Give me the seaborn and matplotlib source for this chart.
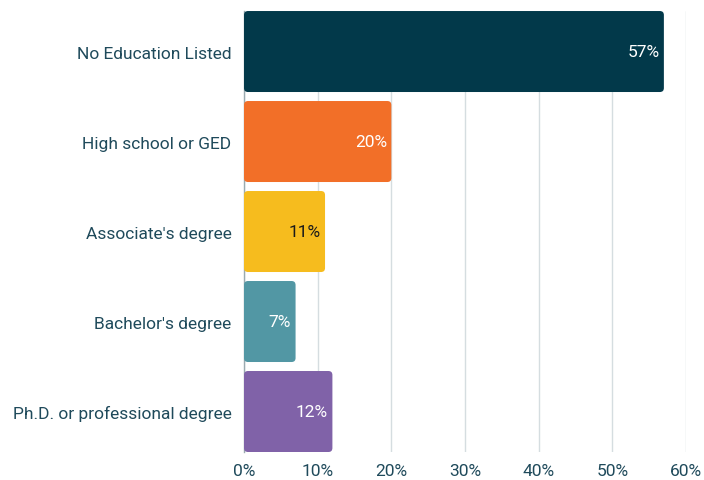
import matplotlib
matplotlib.use("Agg")
import pandas as pd
import seaborn as sns
import matplotlib.pyplot as plt
from matplotlib.patches import FancyBboxPatch

categories = ["No Education Listed", "High school or GED", "Associate's degree",
              "Bachelor's degree", "Ph.D. or professional degree"]
shares = [57, 20, 11, 7, 12]
bar_colors = ["#02394A", "#F26F28", "#F6BC1E", "#5297A4", "#8062A8"]
label_colors = ["white", "white", "#1a1a1a", "white", "white"]
tick_values = [0, 10, 20, 30, 40, 50, 60]

sns.set_style("white")
plt.rcParams['font.family'] = ['Roboto', 'DejaVu Sans']
text_color = "#1F4A5B"

df = pd.DataFrame({"category": categories, "share": shares})

fig = plt.figure(figsize=(7.04, 4.81), dpi=100)
ax = fig.add_axes([0.3466, 0.0582, 0.6278, 0.9168])

sns.barplot(data=df, x="share", y="category", hue="category", palette=bar_colors,
            saturation=1, legend=False, width=0.9, ax=ax, zorder=3)

# swap plain rectangles for rounded ones
px_x = 442 / 60
px_y = 441 / 4.9
for patch in list(ax.patches):
    x, y = patch.get_x(), patch.get_y()
    w, h = patch.get_width(), patch.get_height()
    r = 4 / px_x
    rounded = FancyBboxPatch((x, y), w, h, boxstyle=f"round,pad=0,rounding_size={r}",
                             mutation_aspect=(4 / px_y) / r,
                             facecolor=patch.get_facecolor(), edgecolor="none", zorder=3)
    patch.remove()
    ax.add_patch(rounded)

for i, (v, c) in enumerate(zip(shares, label_colors)):
    ax.text(v - 0.6, i, f"{v}%", color=c, ha="right", va="center", fontsize=12.5, zorder=4)

ax.set_xlim(0, 60)
ax.set_ylim(4.45, -0.45)
ax.set_xticks(tick_values)
ax.set_xticklabels([f"{t}%" for t in tick_values])
ax.xaxis.grid(True, color="#D5DDE0", linewidth=1, zorder=0)
ax.set_axisbelow(True)
ax.set_xlabel("")
ax.set_ylabel("")
for s in ["top", "right", "bottom"]:
    ax.spines[s].set_visible(False)
ax.spines["left"].set_color("#9AAAB0")
ax.spines["left"].set_linewidth(1)
ax.tick_params(axis="both", length=0, labelsize=12.5, colors=text_color)
ax.tick_params(axis="y", pad=9)
ax.tick_params(axis="x", pad=8)

fig.savefig("out.png", dpi=100)
